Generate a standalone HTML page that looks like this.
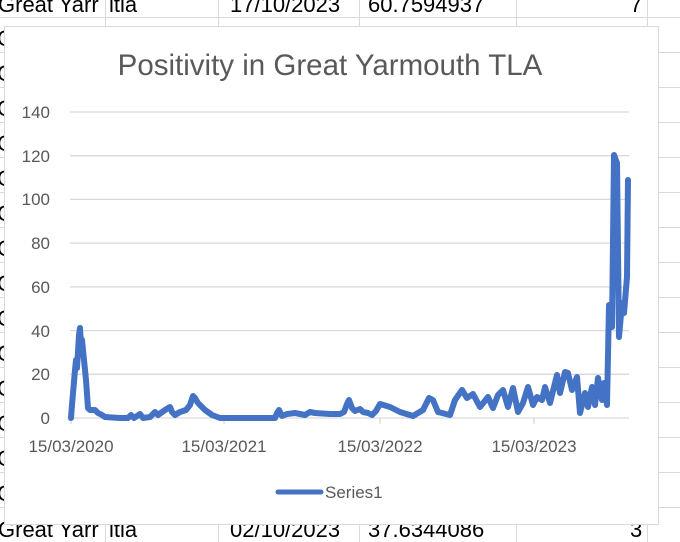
<!DOCTYPE html>
<html><head><meta charset="utf-8"><style>
body{margin:0;width:680px;height:542px;overflow:hidden;background:#fff;font-family:"Liberation Sans",sans-serif;}
</style></head><body>
<svg width="680" height="542" xmlns="http://www.w3.org/2000/svg" style="position:absolute;left:0;top:0">
<g stroke="#d9d9d9" stroke-width="1">
<line x1="0" y1="17.5" x2="680" y2="17.5"/><line x1="0" y1="52.5" x2="680" y2="52.5"/><line x1="0" y1="87.5" x2="680" y2="87.5"/><line x1="0" y1="122.5" x2="680" y2="122.5"/><line x1="0" y1="157.5" x2="680" y2="157.5"/><line x1="0" y1="192.5" x2="680" y2="192.5"/><line x1="0" y1="227.5" x2="680" y2="227.5"/><line x1="0" y1="262.5" x2="680" y2="262.5"/><line x1="0" y1="297.5" x2="680" y2="297.5"/><line x1="0" y1="332.5" x2="680" y2="332.5"/><line x1="0" y1="367.5" x2="680" y2="367.5"/><line x1="0" y1="402.5" x2="680" y2="402.5"/><line x1="0" y1="437.5" x2="680" y2="437.5"/><line x1="0" y1="472.5" x2="680" y2="472.5"/><line x1="0" y1="507.5" x2="680" y2="507.5"/>
<line x1="105.5" y1="0" x2="105.5" y2="542"/><line x1="218.5" y1="0" x2="218.5" y2="542"/><line x1="359.5" y1="0" x2="359.5" y2="542"/><line x1="516.5" y1="0" x2="516.5" y2="542"/><line x1="647.5" y1="0" x2="647.5" y2="542"/>
</g>
<g font-size="22" fill="#000">
<text x="-2" y="12">Great Yarr</text><text x="109" y="12">itia</text><text x="230" y="12">17/10/2023</text><text x="368" y="12">60.7594937</text><text x="630" y="12">7</text>
<text x="-2" y="537">Great Yarr</text><text x="109" y="537">itia</text><text x="230" y="537">02/10/2023</text><text x="368" y="537">37.6344086</text><text x="630" y="537">3</text>
<text x="-3" y="46">C</text><text x="-3" y="81">C</text><text x="-3" y="116">C</text><text x="-3" y="151">C</text><text x="-3" y="186">C</text><text x="-3" y="221">C</text><text x="-3" y="256">C</text><text x="-3" y="291">C</text><text x="-3" y="326">C</text><text x="-3" y="361">C</text><text x="-3" y="396">C</text><text x="-3" y="431">C</text><text x="-3" y="466">C</text><text x="-3" y="501">C</text>
</g>
<rect x="4.5" y="26.5" width="654" height="498" fill="#fff" stroke="#d9d9d9"/>
<text x="330" y="75" font-size="29.5" fill="#595959" text-anchor="middle">Positivity in Great Yarmouth TLA</text>
<g stroke="#d9d9d9" stroke-width="1.3">
<line x1="70" y1="112" x2="629" y2="112"/><line x1="70" y1="155.7" x2="629" y2="155.7"/><line x1="70" y1="199.4" x2="629" y2="199.4"/><line x1="70" y1="243.1" x2="629" y2="243.1"/><line x1="70" y1="286.9" x2="629" y2="286.9"/><line x1="70" y1="330.6" x2="629" y2="330.6"/><line x1="70" y1="374.3" x2="629" y2="374.3"/><line x1="70" y1="418" x2="629" y2="418"/>
<line x1="71" y1="418" x2="71" y2="424"/><line x1="224" y1="418" x2="224" y2="424"/><line x1="380" y1="418" x2="380" y2="424"/><line x1="534" y1="418" x2="534" y2="424"/>
</g>
<g font-size="17" fill="#595959" text-anchor="end">
<text x="50" y="118">140</text><text x="50" y="162">120</text><text x="50" y="205">100</text><text x="50" y="249">80</text><text x="50" y="293">60</text><text x="50" y="337">40</text><text x="50" y="380">20</text><text x="50" y="424">0</text>
</g>
<g font-size="17" fill="#595959" text-anchor="middle">
<text x="71" y="452">15/03/2020</text><text x="224" y="452">15/03/2021</text><text x="380" y="452">15/03/2022</text><text x="534" y="452">15/03/2023</text>
</g>
<polyline fill="none" stroke="#4472C4" stroke-width="6" stroke-linejoin="round" stroke-linecap="round" points="71,418 72,405 75,370 76,360 77,368 79,335 80,328 81,345 82,340 84,360 86,380 88,408 90,410 95,410 98,413 102,415 105,417 120,418 128,418 131,415 134,418 140,414 143,418 150,417 155,412 158,415 165,410 170,407 172,412 175,415 180,412 186,410 190,405 193,396 195,398 198,403 205,410 212,415 220,418 275,418 277,413 279,410 282,416 287,414 295,413 305,415 310,412 315,413 330,414 340,414 344,412 347,404 349,400 352,408 355,411 360,409 363,412 368,413 372,415 376,411 380,404 390,407 400,412 413,416 423,410 429,398 433,400 438,412 450,415 455,400 462,390 467,398 473,394 480,407 488,397 493,408 498,395 503,390 508,407 513,388 518,412 523,403 528,387 533,405 537,397 542,400 545,387 550,403 557,375 560,393 565,372 568,373 572,390 577,377 580,413 585,393 588,407 592,387 595,405 598,378 602,400 604,383 607,405 609,305 612,327 614,155 617,163 619,337 622,303 624,313 627,277 628,180"/>
<line x1="278" y1="492" x2="321" y2="492" stroke="#4472C4" stroke-width="5" stroke-linecap="round"/>
<text x="325" y="498" font-size="17" fill="#595959">Series1</text>
</svg>
</body></html>
